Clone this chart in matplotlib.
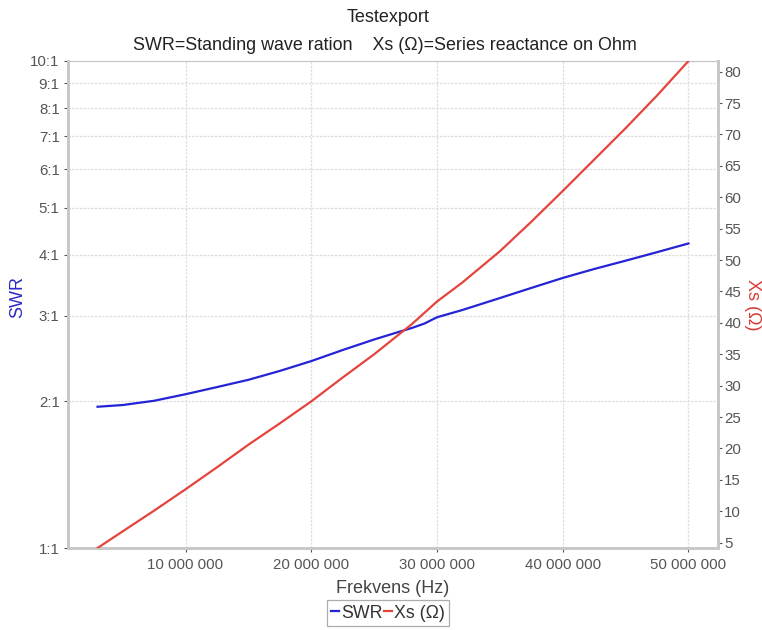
import matplotlib
matplotlib.use("Agg")
import matplotlib.pyplot as plt
from matplotlib.ticker import FixedLocator, FuncFormatter, NullLocator

plt.rcParams['font.family'] = ['Liberation Sans', 'DejaVu Sans']

# Sweep data
freq_hz = [3e6, 5e6, 7.5e6, 10e6, 12.5e6, 15e6, 17.5e6, 20e6, 22.5e6, 25e6,
           27e6, 28e6, 29e6, 30e6, 32e6, 35e6, 37.5e6, 40e6, 42.5e6, 45e6,
           47.5e6, 50e6]
swr = [1.950, 1.966, 2.006, 2.069, 2.14, 2.215, 2.31, 2.42, 2.55, 2.68,
       2.78, 2.83, 2.89, 2.977, 3.08, 3.26, 3.42, 3.585, 3.74, 3.89,
       4.05, 4.22]
xs_ohm = [4.15, 6.8, 10.1, 13.5, 17.0, 20.6, 24.0, 27.5, 31.3, 35.0,
          38.2, 39.8, 41.6, 43.4, 46.4, 51.4, 56.1, 61.0, 66.0, 71.0,
          76.2, 81.7]

swr_ticks = [1, 2, 3, 4, 5, 6, 7, 8, 9, 10]
swr_tick_labels = [f"{v}:1" for v in swr_ticks]
xs_ticks = list(range(5, 85, 5))
freq_ticks = [10e6, 20e6, 30e6, 40e6, 50e6]

title = "Testexport"
subtitle = "SWR=Standing wave ration    Xs (\u03a9)=Series reactance on Ohm"

W, H = 762, 630
fig = plt.figure(figsize=(W / 100, H / 100), dpi=100)
left, right, top, bottom = 68, 718, 61, 548
ax = fig.add_axes([left / W, 1 - bottom / H, (right - left) / W, (bottom - top) / H])
ax2 = ax.twinx()

blue = '#2424d6'
red = '#e5443c'
tick_gray = '#555555'
spine_gray = '#c8c8c8'

l1, = ax.plot(freq_hz, swr, color=blue, lw=1.6, label='SWR', zorder=3)
l2, = ax2.plot(freq_hz, xs_ohm, color=red, lw=1.6, label='Xs (\u03a9)', zorder=3)

ax.set_yscale('log')
ax.set_ylim(1, 10)
ax.yaxis.set_major_locator(FixedLocator(swr_ticks))
ax.yaxis.set_minor_locator(NullLocator())
ax.set_yticklabels(swr_tick_labels)

ax.set_xlim(3e6 - 0.05 * 47e6, 50e6 + 0.05 * 47e6)
ax.xaxis.set_major_locator(FixedLocator(freq_ticks))
ax.xaxis.set_major_formatter(FuncFormatter(lambda v, p: f"{int(round(v)):,}".replace(",", " ")))

ax2.set_ylim(min(xs_ohm), max(xs_ohm))
ax2.yaxis.set_major_locator(FixedLocator(xs_ticks))

ax.grid(True, which='major', color='#dedede', lw=0.9, ls=(0, (2, 1)))
ax.set_axisbelow(True)

for a in (ax, ax2):
    a.tick_params(labelsize=10.8, colors=tick_gray, length=3, width=0.8)
    for side, sp in a.spines.items():
        sp.set_color(spine_gray)
        sp.set_linewidth(2.0 if side in ('left', 'bottom', 'right') else 0.8)
ax.tick_params(axis='y', pad=3)
ax2.tick_params(axis='y', pad=1.5)
ax.tick_params(axis='x', pad=4)

ax.set_xlabel('Frekvens (Hz)', fontsize=13, color='#444444', labelpad=6)
ax.set_ylabel('SWR', fontsize=13, color='#2a2ac8', rotation=90, ha='center', va='center')
ax.yaxis.set_label_coords((18 - left) / (right - left), (bottom - 297) / (bottom - top))
ax2.set_ylabel('Xs (\u03a9)', fontsize=13, color='#d83a34', rotation=270, ha='center', va='center')
ax2.yaxis.set_label_coords((752 - left) / (right - left), (bottom - 305) / (bottom - top))

fig.text(388 / W, 1 - 18 / H, title, ha='center', va='center', fontsize=13, color='#222222')
fig.text(385 / W, 1 - 45 / H, subtitle, ha='center', va='center', fontsize=12.9, color='#222222')

leg = fig.legend([l1, l2], ['SWR', 'Xs (\u03a9)'], loc='center', bbox_to_anchor=(388 / W, 1 - 613 / H),
                 ncol=2, fontsize=12.8, handlelength=0.45, handletextpad=0.1, columnspacing=0.1,
                 frameon=True, fancybox=False, edgecolor='#999999', borderpad=0.25, borderaxespad=0)
leg.get_frame().set_linewidth(0.9)
for t in leg.get_texts():
    t.set_color('#333333')

fig.savefig('out.png', dpi=100, facecolor='white')
